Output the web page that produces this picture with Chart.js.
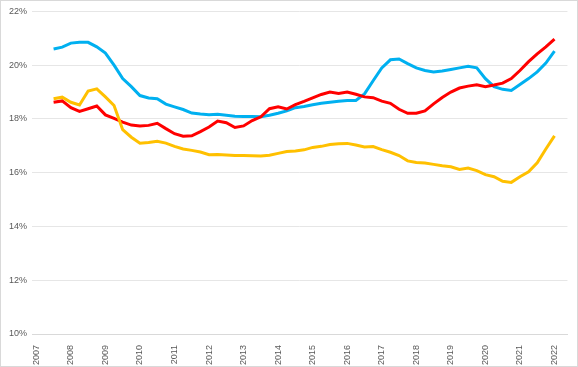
<!DOCTYPE html>
<html>
<head>
<meta charset="utf-8">
<script src="https://cdn.jsdelivr.net/npm/chart.js@4/dist/chart.umd.min.js"></script>
<style>
  body { margin: 0; background: #fff; }
  #wrap { width: 578px; height: 367px; box-sizing: border-box; border: 1px solid #d9d9d9; }
</style>
</head>
<body>
<div id="wrap"><canvas id="grafico" width="576" height="365"></canvas></div>
<script>
// kwartalen 2007-K1 t/m 2022-K2 (data loopt van 2007-K3 t/m 2022-K1)
const jaren = [2007, 2008, 2009, 2010, 2011, 2012, 2013, 2014, 2015, 2016, 2017, 2018, 2019, 2020, 2021, 2022];
const kwartalen = [];
jaren.forEach(j => [1, 2, 3, 4].forEach(k => { if (j < 2022 || k <= 2) kwartalen.push(j + '-K' + k); }));

const yTicks = [10, 12, 14, 16, 18, 20, 22];

const blauw = [20.60, 20.67, 20.82, 20.85, 20.85, 20.68, 20.45, 20.00, 19.50, 19.20,
  18.87, 18.78, 18.75, 18.55, 18.45, 18.35, 18.22, 18.18, 18.16, 18.17,
  18.14, 18.10, 18.09, 18.09, 18.08, 18.14, 18.21, 18.30, 18.42, 18.46,
  18.53, 18.58, 18.62, 18.66, 18.69, 18.69, 18.93, 19.42, 19.90, 20.20,
  20.23, 20.06, 19.90, 19.80, 19.75, 19.78, 19.84, 19.90, 19.96, 19.90,
  19.50, 19.20, 19.10, 19.06, 19.28, 19.50, 19.75, 20.08, 20.52];

const rood = [18.62, 18.67, 18.42, 18.28, 18.38, 18.48, 18.15, 18.02, 17.88, 17.77,
  17.74, 17.76, 17.84, 17.64, 17.45, 17.36, 17.37, 17.53, 17.70, 17.92,
  17.86, 17.68, 17.74, 17.94, 18.08, 18.38, 18.45, 18.37, 18.53, 18.65,
  18.78, 18.91, 19.00, 18.95, 19.00, 18.92, 18.82, 18.79, 18.66, 18.58,
  18.36, 18.21, 18.21, 18.30, 18.56, 18.80, 19.00, 19.15, 19.22, 19.27,
  19.20, 19.26, 19.33, 19.50, 19.80, 20.13, 20.42, 20.68, 20.97];

const geel = [18.75, 18.81, 18.62, 18.52, 19.04, 19.12, 18.82, 18.50, 17.60, 17.32,
  17.10, 17.12, 17.17, 17.10, 16.98, 16.88, 16.83, 16.77, 16.67, 16.68,
  16.66, 16.64, 16.64, 16.63, 16.62, 16.65, 16.72, 16.79, 16.81, 16.85,
  16.94, 16.98, 17.05, 17.08, 17.09, 17.03, 16.96, 16.97, 16.86, 16.76,
  16.64, 16.44, 16.38, 16.36, 16.31, 16.26, 16.22, 16.12, 16.17, 16.08,
  15.93, 15.85, 15.68, 15.64, 15.85, 16.03, 16.37, 16.88, 17.37];

const opvullen = arr => [null, null, ...arr, null];
const lijn = (data, kleur) => ({ data: opvullen(data), borderColor: kleur, backgroundColor: kleur, borderWidth: 3, pointRadius: 0, tension: 0, fill: false, spanGaps: false });

const tekst = { family: 'Liberation Sans', size: 9 };

new Chart(document.getElementById('grafico'), {
  type: 'line',
  data: {
    labels: kwartalen,
    datasets: [lijn(geel, '#ffc000'), lijn(rood, '#ff0000'), lijn(blauw, '#00b0f0')]
  },
  options: {
    responsive: false,
    animation: false,
    layout: { padding: { top: 4, right: 9, bottom: 0, left: 0 } },
    plugins: { legend: { display: false }, tooltip: { enabled: false } },
    scales: {
      x: {
        offset: true,
        grid: { display: false },
        border: { color: '#d9d9d9' },
        ticks: {
          color: '#595959', font: tekst, autoSkip: false, minRotation: 90, maxRotation: 90, padding: 3,
          callback: (v, i) => kwartalen[i].endsWith('K1') ? kwartalen[i].slice(0, 4) : ''
        },
        afterFit: s => { s.height = 32; }
      },
      y: {
        min: 10, max: 22,
        grid: { color: '#e6e6e6', drawTicks: false },
        border: { display: false },
        afterBuildTicks: s => { s.ticks = yTicks.map(v => ({ value: v })); },
        ticks: { color: '#595959', font: tekst, padding: 5, callback: v => v + '%' },
        afterFit: s => { s.width = 31; }
      }
    }
  }
});
</script>
</body>
</html>
